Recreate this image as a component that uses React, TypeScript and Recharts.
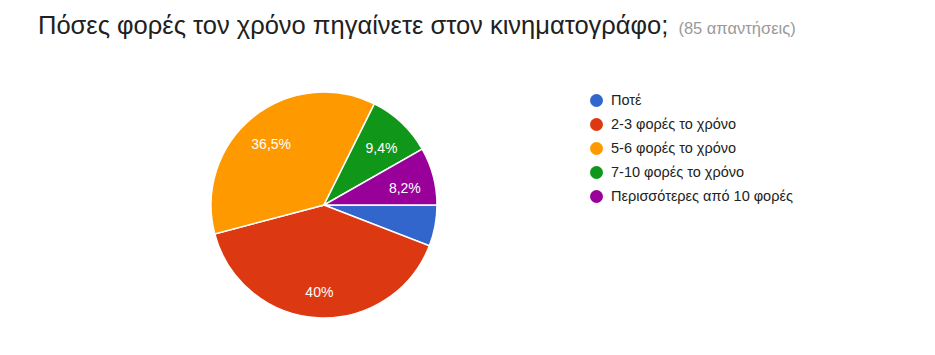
import { PieChart, Pie, Cell } from "recharts";

// answers to the cinema question, out of 85 responses
const categories = [
  "Ποτέ",
  "2-3 φορές το χρόνο",
  "5-6 φορές το χρόνο",
  "7-10 φορές το χρόνο",
  "Περισσότερες από 10 φορές",
];
const counts = [5, 34, 31, 8, 7];
const colors = ["#3366cc", "#dc3912", "#ff9900", "#109618", "#990099"];

const total = counts.reduce((a, b) => a + b, 0);
const data = categories.map((name, i) => ({ name, value: counts[i] }));

const RAD = Math.PI / 180;

// Google-style: percent inside the slice, comma decimal, hidden on thin slices
function sliceLabel(p: any) {
  const pct = (p.value / total) * 100;
  if (pct < 7) return null;
  const r = p.outerRadius * 0.74;
  const x = p.cx + r * Math.cos(-p.midAngle * RAD);
  const y = p.cy + r * Math.sin(-p.midAngle * RAD) + 4;
  const txt = (Math.round(pct * 10) / 10).toString().replace(".", ",") + "%";
  return (
    <text x={x} y={y} fill="#fff" fontSize={14} textAnchor="middle" dominantBaseline="central">
      {txt}
    </text>
  );
}

function LegendBox() {
  return (
    <div style={{ position: "absolute", left: 590, top: 88 }}>
      {data.map((d, i) => (
        <div key={d.name} style={{ display: "flex", alignItems: "center", height: 24 }}>
          <span
            style={{
              width: 13,
              height: 13,
              borderRadius: "50%",
              background: colors[i],
              marginRight: 8,
              display: "inline-block",
              flexShrink: 0,
            }}
          />
          <span style={{ fontSize: 14.5, color: "#222", whiteSpace: "nowrap" }}>{d.name}</span>
        </div>
      ))}
    </div>
  );
}

export default function App() {
  return (
    <div style={{ position: "absolute", left: 0, top: 0, width: 935, height: 355, background: "#fff", fontFamily: "'Liberation Sans', Arial, sans-serif" }}>
      <div style={{ position: "absolute", left: 38, top: 11, whiteSpace: "nowrap", color: "#212121" }}>
        <span style={{ fontSize: 25.5 }}>Πόσες φορές τον χρόνο πηγαίνετε στον κινηματογράφο;</span>
        <span style={{ fontSize: 16.5, color: "#999", marginLeft: 10 }}>(85 απαντήσεις)</span>
      </div>
      <div style={{ position: "absolute", left: 0, top: 0 }}>
        <PieChart width={935} height={355} margin={{ top: 0, right: 0, bottom: 0, left: 0 }}>
          <Pie
            data={data}
            dataKey="value"
            nameKey="name"
            cx={324}
            cy={205}
            outerRadius={113}
            startAngle={0}
            endAngle={-360}
            stroke="#fff"
            strokeWidth={1.5}
            label={sliceLabel}
            labelLine={false}
            isAnimationActive={false}
          >
            {data.map((d, i) => (
              <Cell key={d.name} fill={colors[i]} />
            ))}
          </Pie>
        </PieChart>
      </div>
      <LegendBox />
    </div>
  );
}
